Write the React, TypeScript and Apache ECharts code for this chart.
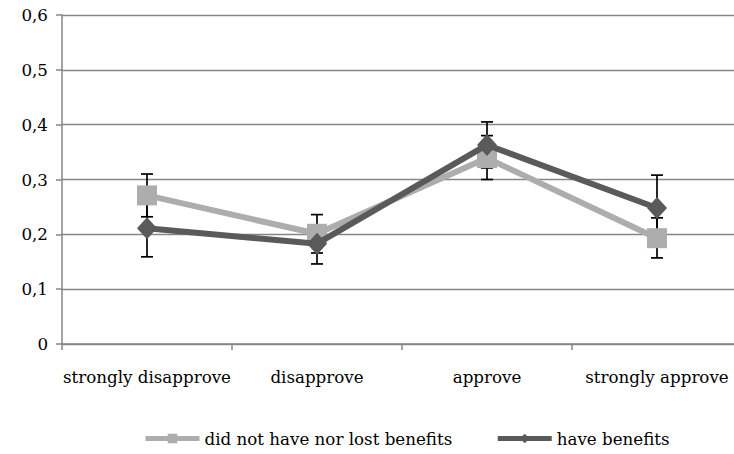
import React, { useEffect, useRef } from "react";
import * as echarts from "echarts";

const categories = ["strongly disapprove", "disapprove", "approve", "strongly approve"];
const yTicks = ["0", "0,1", "0,2", "0,3", "0,4", "0,5", "0,6"];
const seriesNames = ["did not have nor lost benefits", "have benefits"];
const notHaveValues = [0.271, 0.201, 0.339, 0.193];
const haveValues = [0.211, 0.183, 0.363, 0.248];
const notHaveLow = [0.232, 0.166, 0.3, 0.157];
const notHaveHigh = [0.31, 0.236, 0.38, 0.23];
const haveLow = [0.159, 0.146, 0.321, 0.188];
const haveHigh = [0.26, 0.215, 0.405, 0.308];

const FONT = "DejaVu Serif";

export default function App() {
  const ref = useRef<HTMLDivElement>(null);
  useEffect(() => {
    if (!ref.current) return;
    const chart = echarts.init(ref.current, undefined, { renderer: "svg" });
    const errData: number[][] = [];
    categories.forEach((_, i) => {
      errData.push([i, notHaveLow[i], notHaveHigh[i]]);
      errData.push([i, haveLow[i], haveHigh[i]]);
    });
    const labelMap: Record<string, string> = {};
    [0, 0.1, 0.2, 0.3, 0.4, 0.5, 0.6].forEach((v, i) => (labelMap[v.toFixed(1)] = yTicks[i]));
    chart.setOption({
      animation: false,
      backgroundColor: "#ffffff",
      textStyle: { fontFamily: FONT },
      grid: { left: 62, right: -8, top: 15, bottom: 110, outerBoundsMode: "none", containLabel: false },
      legend: {
        left: 143,
        top: 430,
        padding: 0,
        itemWidth: 54,
        itemHeight: 12,
        itemGap: 43,
        lineStyle: { width: 5 },
        textStyle: { fontFamily: FONT, fontSize: 16.7, color: "#000" },
        data: seriesNames,
      },
      xAxis: {
        type: "category",
        data: categories,
        boundaryGap: true,
        axisLine: { lineStyle: { color: "#868686", width: 1.5 } },
        axisTick: { show: true, length: 6, lineStyle: { color: "#868686", width: 1.5 } },
        axisLabel: { fontFamily: FONT, fontSize: 16.7, color: "#000", margin: 24, interval: 0 },
      },
      yAxis: {
        type: "value",
        min: 0,
        max: 0.6,
        interval: 0.1,
        axisLine: { show: true, lineStyle: { color: "#868686", width: 1.5 } },
        axisTick: { show: true, length: 6, lineStyle: { color: "#868686", width: 1.5 } },
        splitLine: { lineStyle: { color: "#868686", width: 1.3 } },
        axisLabel: {
          fontFamily: FONT,
          fontSize: 16.7,
          color: "#000",
          margin: 14,
          formatter: (v: number) => labelMap[v.toFixed(1)] ?? String(v),
        },
      },
      series: [
        {
          type: "custom",
          z: 1,
          silent: true,
          data: errData,
          encode: { x: 0, y: [1, 2] },
          renderItem: (params: any, api: any) => {
            const x = api.value(0);
            const lo = api.coord([x, api.value(1)]);
            const hi = api.coord([x, api.value(2)]);
            const hw = 6;
            const style = { stroke: "#000", lineWidth: 1.7 };
            return {
              type: "group",
              children: [
                { type: "line", shape: { x1: lo[0], y1: lo[1], x2: hi[0], y2: hi[1] }, style },
                { type: "line", shape: { x1: lo[0] - hw, y1: lo[1], x2: lo[0] + hw, y2: lo[1] }, style },
                { type: "line", shape: { x1: hi[0] - hw, y1: hi[1], x2: hi[0] + hw, y2: hi[1] }, style },
              ],
            };
          },
        },
        {
          name: seriesNames[0],
          type: "line",
          z: 3,
          data: notHaveValues,
          symbol: "rect",
          symbolSize: 20,
          color: "#adadad",
          lineStyle: { color: "#adadad", width: 6 },
          itemStyle: { color: "#adadad" },
        },
        {
          name: seriesNames[1],
          type: "line",
          z: 4,
          data: haveValues,
          symbol: "diamond",
          symbolSize: [20, 22],
          color: "#5a5a5a",
          lineStyle: { color: "#5a5a5a", width: 6 },
          itemStyle: { color: "#5a5a5a" },
        },
      ],
    });
    return () => chart.dispose();
  }, []);
  return (
    <div
      ref={ref}
      style={{ position: "fixed", left: 0, top: 0, width: 734, height: 454, background: "#fff" }}
    />
  );
}
